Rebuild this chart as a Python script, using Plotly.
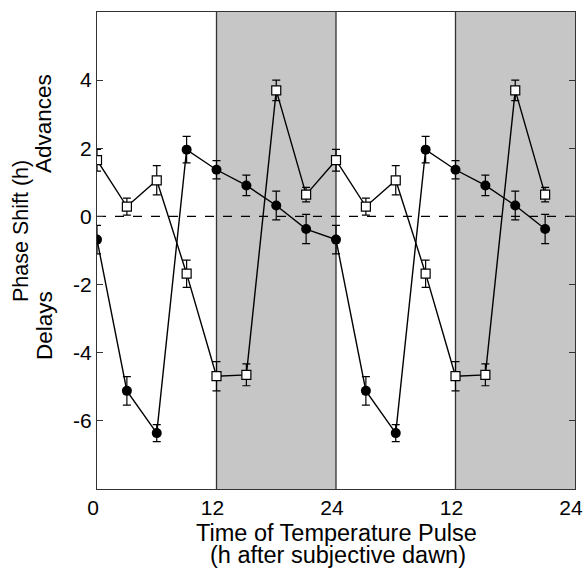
import plotly.graph_objects as go

# Time of pulse (h); second cycle is a repeat of the first
times = [0, 3, 6, 9, 12, 15, 18, 21, 24, 27, 30, 33, 36, 39, 42, 45]
circle_shift = [-0.68, -5.12, -6.36, 1.96, 1.37, 0.91, 0.32, -0.37,
                -0.68, -5.12, -6.36, 1.96, 1.37, 0.91, 0.32, -0.37]
circle_err = [0.42, 0.42, 0.25, 0.39, 0.27, 0.30, 0.42, 0.43,
              0.42, 0.42, 0.25, 0.39, 0.27, 0.30, 0.42, 0.43]
square_shift = [1.65, 0.29, 1.06, -1.68, -4.69, -4.65, 3.70, 0.64,
                1.65, 0.29, 1.06, -1.68, -4.69, -4.65, 3.70, 0.64]
square_err = [0.32, 0.25, 0.43, 0.40, 0.43, 0.32, 0.30, 0.21,
              0.32, 0.25, 0.43, 0.40, 0.43, 0.32, 0.30, 0.21]

x_tickvals = [0, 12, 24, 36, 48]
x_ticktext = ["0", "12", "24", "12", "24"]
y_tickvals = [-6, -4, -2, 0, 2, 4]
y_ticktext = ["-6", "-4", "-2", "0", "2", "4"]
dark_spans = [(12, 24), (36, 48)]
divider_x = [12, 24, 36]

FONT = "Liberation Sans, Arial, Helvetica, sans-serif"
W, H = 586, 569
ML, MR, MT, MB = 97, 11, 12, 80
PW, PH = W - ML - MR, H - MT - MB


def px_x(p):
    return (p - ML) / PW


def px_y(p):
    return 1 - (p - MT) / PH


fig = go.Figure()

fig.add_trace(go.Scatter(
    x=times, y=circle_shift, mode="lines+markers",
    line=dict(color="black", width=1.4),
    marker=dict(symbol="circle", size=10, color="black"),
    error_y=dict(type="data", array=circle_err, color="black", thickness=1.2, width=4),
    showlegend=False,
))
fig.add_trace(go.Scatter(
    x=times, y=square_shift, mode="lines+markers",
    line=dict(color="black", width=1.4),
    marker=dict(symbol="square", size=9, color="white", line=dict(color="black", width=1.2)),
    error_y=dict(type="data", array=square_err, color="black", thickness=1.2, width=4),
    showlegend=False,
))

shapes = []
for a, b in dark_spans:
    shapes.append(dict(type="rect", xref="x", yref="paper", x0=a, x1=b, y0=0, y1=1,
                       fillcolor="#c6c6c6", line=dict(width=0), layer="below"))
for xv in divider_x:
    shapes.append(dict(type="line", xref="x", yref="paper", x0=xv, x1=xv, y0=0, y1=1,
                       line=dict(color="#333333", width=1.3), layer="below"))
shapes.append(dict(type="line", xref="paper", yref="y", x0=0, x1=1, y0=0, y1=0,
                   line=dict(color="black", width=1.2, dash="dash"), layer="below"))


def lab(size):
    return dict(size=size, color="black", family=FONT)


annotations = [
    dict(text="Phase Shift (h)", xref="paper", yref="paper", x=px_x(21), y=px_y(231),
         textangle=-90, showarrow=False, font=lab(21.5), xanchor="center", yanchor="middle"),
    dict(text="Advances", xref="paper", yref="paper", x=px_x(44), y=px_y(124),
         textangle=-90, showarrow=False, font=lab(22.5), xanchor="center", yanchor="middle"),
    dict(text="Delays", xref="paper", yref="paper", x=px_x(44), y=px_y(326),
         textangle=-90, showarrow=False, font=lab(22.5), xanchor="center", yanchor="middle"),
    dict(text="Time of Temperature Pulse", xref="paper", yref="paper", x=px_x(336.5), y=px_y(533),
         showarrow=False, font=lab(23.5), xanchor="center", yanchor="middle"),
    dict(text="(h after subjective dawn)", xref="paper", yref="paper", x=px_x(337.5), y=px_y(555),
         showarrow=False, font=lab(23.5), xanchor="center", yanchor="middle"),
]

fig.update_layout(
    template="none",
    width=W, height=H,
    margin=dict(l=ML, r=MR, t=MT, b=MB, autoexpand=False),
    plot_bgcolor="white", paper_bgcolor="white",
    font=dict(family=FONT, size=21, color="black"),
    shapes=shapes, annotations=annotations,
    xaxis=dict(range=[0, 48], tickvals=x_tickvals, ticktext=x_ticktext, automargin=False,
               showgrid=False, zeroline=False, showline=True, linecolor="#333333",
               linewidth=1.3, mirror=True, ticks="", tickfont=dict(size=21),
               ticklabeloverflow="allow", ticklabelshift=-4),
    yaxis=dict(range=[-8, 6], tickvals=y_tickvals, ticktext=y_ticktext, automargin=False,
               showgrid=False, zeroline=False,
               showline=True, linecolor="#333333", linewidth=1.3, mirror="ticks",
               ticks="inside", ticklen=6, tickcolor="#333333", tickfont=dict(size=21)),
)

fig.write_html("out.html", config={"displayModeBar": False},
               post_script="document.body.style.margin='0';document.body.style.overflow='hidden';")
